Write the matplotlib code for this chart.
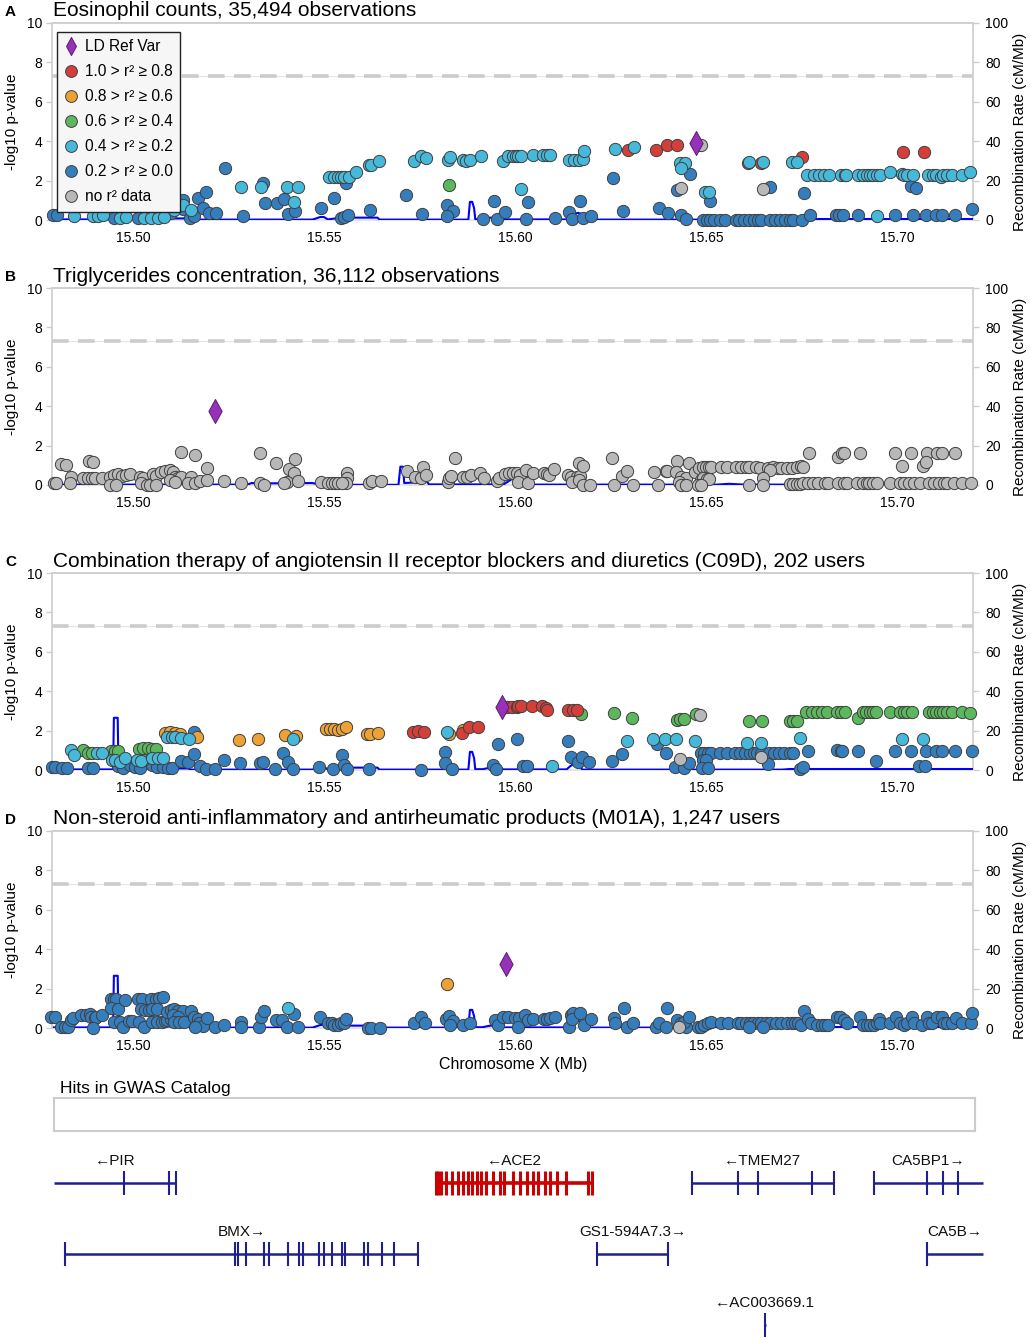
import matplotlib
matplotlib.use("Agg")
import math
import matplotlib.pyplot as plt
from matplotlib.lines import Line2D
from matplotlib.path import Path
from matplotlib.ticker import FormatStrFormatter

plt.rcParams['font.family'] = ['Liberation Sans', 'DejaVu Sans']

W, H = 1031, 1339
X_MIN, X_MAX = 15.4788, 15.7199
GWS_P = 5e-8

# ---------------- panel A: eosinophil counts ----------------
eos_ld00_pos = [15.4790, 15.4800, 15.4950, 15.5013, 15.5099, 15.5131, 15.5131, 15.5150, 15.5160, 15.5170,
                15.5183, 15.5191, 15.5199, 15.5217, 15.5241, 15.5288, 15.5340, 15.5346, 15.5377, 15.5395,
                15.5406, 15.5424, 15.5492, 15.5526, 15.5558, 15.5545, 15.5552, 15.5563, 15.5620, 15.5715,
                15.5757, 15.5822, 15.5838, 15.5822, 15.5916, 15.5945, 15.5953, 15.5974, 15.6034, 15.6029,
                15.6105, 15.6141, 15.6149, 15.6170, 15.6178, 15.6199, 15.6257, 15.6283, 15.6376, 15.6401,
                15.6424, 15.6458, 15.6435, 15.6448, 15.6511,
                15.6492, 15.6503, 15.6511, 15.6520, 15.6537, 15.6550, 15.6579, 15.6586, 15.6600, 15.6613,
                15.6626, 15.6636, 15.6644, 15.6668, 15.6681, 15.6694, 15.6707, 15.6720, 15.6729, 15.6751,
                15.6668, 15.6757, 15.6772, 15.6840, 15.6848, 15.6859, 15.6898, 15.6996, 15.7037, 15.7041,
                15.7051, 15.7076, 15.7102, 15.7119, 15.7152, 15.7197]
eos_ld00_logp = [0.25, 0.25, 0.1, 0.1, 0.35, 1.0, 0.55, 0.1, 0.2, 1.1,
                 0.6, 1.4, 0.35, 0.35, 2.65, 0.2, 1.9, 0.85, 0.85, 1.05,
                 0.3, 0.45, 0.6, 1.1, 1.9, 0.1, 0.15, 0.25, 0.5, 1.25,
                 0.3, 0.75, 0.45, 0.2, 0.05, 0.95, 0.05, 0.4, 0.93, 0.07,
                 0.1, 0.4, 0.05, 0.95, 0.1, 0.2, 2.15, 0.45, 0.6, 0.35,
                 1.5, 2.35, 0.25, 0.05, 0.95,
                 0.02, 0.02, 0.02, 0.02, 0.02, 0.02, 0.02, 0.02, 0.02, 0.02,
                 0.02, 0.02, 0.02, 0.02, 0.02, 0.02, 0.02, 0.02, 0.02, 0.02,
                 1.65, 1.35, 0.25, 0.25, 0.25, 0.25, 0.25, 0.25, 1.75, 0.25,
                 1.6, 0.25, 0.25, 0.25, 0.25, 0.58]
eos_ld08_pos = [15.6297, 15.6369, 15.6398, 15.6424, 15.6610, 15.6644, 15.6751, 15.7016, 15.7070]
eos_ld08_logp = [3.55, 3.55, 3.8, 3.8, 2.9, 2.9, 3.2, 3.45, 3.45]
eos_ld02_pos = [15.4845, 15.4895, 15.4908, 15.4921, 15.4966, 15.4982, 15.5029, 15.5047, 15.5065, 15.5081,
                15.5107, 15.5131, 15.5152, 15.5283, 15.5335, 15.5403, 15.5421, 15.5432, 15.5513, 15.5526,
                15.5537, 15.5545, 15.5552, 15.5565, 15.5584, 15.5618, 15.5623, 15.5644, 15.5736, 15.5754,
                15.5767, 15.5825, 15.5830, 15.5864, 15.5872, 15.5882, 15.5911, 15.5969, 15.5982, 15.5995,
                15.6003, 15.6008, 15.6016, 15.6016, 15.6047, 15.6073, 15.6084, 15.6092, 15.6141, 15.6155,
                15.6168, 15.6178, 15.6181, 15.6262, 15.6312, 15.6431, 15.6445, 15.6435, 15.6479, 15.6497,
                15.6507, 15.6613, 15.6649, 15.6725, 15.6738, 15.6765, 15.6783, 15.6796, 15.6809, 15.6822,
                15.6853, 15.6863, 15.6867, 15.6898, 15.6911, 15.6922, 15.6929, 15.6937, 15.6948, 15.6956,
                15.6948, 15.6982, 15.7013, 15.7018, 15.7026, 15.7041, 15.7081, 15.7094, 15.7102, 15.7115,
                15.7120, 15.7130, 15.7143, 15.7170, 15.7191]
eos_ld02_logp = [0.2, 0.2, 0.2, 0.25, 0.1, 0.15, 0.1, 0.1, 0.1, 0.15,
                 0.5, 0.75, 0.5, 1.65, 1.65, 1.65, 0.9, 1.65, 2.2, 2.2,
                 2.2, 2.2, 2.2, 2.2, 2.45, 2.8, 2.8, 3.0, 3.0, 3.25,
                 3.15, 3.05, 3.2, 3.05, 3.0, 3.05, 3.25, 3.0, 3.25, 3.25,
                 3.25, 3.25, 3.25, 1.55, 3.3, 3.3, 3.3, 3.28, 3.05, 3.05,
                 3.05, 3.1, 3.5, 3.6, 3.7, 2.9, 2.9, 2.65, 3.8, 1.4,
                 1.4, 2.95, 2.95, 2.95, 2.95, 2.27, 2.27, 2.27, 2.27, 2.27,
                 2.27, 2.27, 2.27, 2.27, 2.27, 2.27, 2.27, 2.27, 2.27, 2.27,
                 0.2, 2.45, 2.35, 2.27, 2.27, 2.27, 2.27, 2.27, 2.27, 2.2,
                 2.3, 2.27, 2.27, 2.3, 2.45]
eos_nold_pos = [15.6435, 15.6487, 15.6649]
eos_nold_logp = [1.6, 3.8, 1.55]
eos_ld04_pos = [15.5827]
eos_ld04_logp = [1.8]
eos_ref = (15.6475, 3.9)

# ---------------- panel B: triglycerides ----------------
tg_nold_pos = [15.4794, 15.4798, 15.4812, 15.4825, 15.4838, 15.4836, 15.4870, 15.4883, 15.4892, 15.4900,
               15.4918, 15.4886, 15.4895, 15.4940, 15.4949, 15.4960, 15.4971, 15.4982, 15.4993, 15.4940,
               15.4956, 15.5018, 15.5026, 15.5022, 15.5038, 15.5044, 15.5053, 15.5061, 15.5073, 15.5083,
               15.5096, 15.5105, 15.5110, 15.5118, 15.5127, 15.5096, 15.5110, 15.5061, 15.5127, 15.5151,
               15.5162, 15.5145, 15.5162, 15.5175, 15.5193, 15.5195, 15.5239, 15.5283, 15.5333, 15.5333,
               15.5344, 15.5375, 15.5408, 15.5421, 15.5404, 15.5395, 15.5433, 15.5425, 15.5491, 15.5511,
               15.5520, 15.5529, 15.5538, 15.5559, 15.5559, 15.5557, 15.5546, 15.5618, 15.5627, 15.5649,
               15.5717, 15.5737, 15.5755, 15.5759, 15.5768, 15.5825, 15.5828, 15.5832, 15.5842, 15.5864,
               15.5875, 15.5885, 15.5908, 15.5919, 15.5952, 15.5959, 15.5974, 15.5985,
               15.5996, 15.6004, 15.6013, 15.6009, 15.6033, 15.6028, 15.6046, 15.6075, 15.6083, 15.6090,
               15.6101, 15.6140, 15.6147, 15.6162, 15.6171, 15.6149, 15.6167, 15.6167, 15.6177, 15.6177,
               15.6197, 15.6254, 15.6259, 15.6281, 15.6294, 15.6309, 15.6364, 15.6395, 15.6399, 15.6375,
               15.6424, 15.6421, 15.6434, 15.6447, 15.6430, 15.6434, 15.6447, 15.6456, 15.6472, 15.6482,
               15.6491, 15.6500, 15.6509, 15.6514, 15.6487, 15.6493, 15.6502, 15.6509, 15.6478, 15.6487,
               15.6539, 15.6554, 15.6579, 15.6592, 15.6605, 15.6612, 15.6630, 15.6642, 15.6662, 15.6675,
               15.6689, 15.6697, 15.6711, 15.6724, 15.6737, 15.6750, 15.6754,
               15.6667, 15.6649, 15.6649, 15.6612,
               15.6719, 15.6728, 15.6737, 15.6746, 15.6754, 15.6768, 15.6781, 15.6794, 15.6811, 15.6820,
               15.6846, 15.6860, 15.6868, 15.6895, 15.6912, 15.6921, 15.6928, 15.6937, 15.6947, 15.6982,
               15.7009, 15.7018, 15.7031, 15.7044, 15.7061, 15.7083, 15.7096, 15.7110, 15.7123, 15.7132,
               15.7149, 15.7171, 15.7193,
               15.6770, 15.6845, 15.6855, 15.6860, 15.6902, 15.6996, 15.7037, 15.7079, 15.7105, 15.7118,
               15.7151, 15.7013, 15.7068, 15.7077]
tg_nold_logp = [0.08, 0.08, 1.05, 1.0, 0.4, 0.12, 0.35, 0.35, 0.35, 0.35,
                0.35, 1.2, 1.15, 0.4, 0.5, 0.55, 0.45, 0.5, 0.55, 0.0,
                0.0, 0.42, 0.35, 0.1, 0.0, 0.0, 0.55, 0.45, 0.68, 0.73,
                0.76, 0.68, 0.42, 0.34, 0.39, 0.25, 0.17, 0.0, 1.7, 0.42,
                1.53, 0.08, 0.08, 0.2, 0.25, 0.88, 0.2, 0.08, 1.6, 0.12,
                0.0, 1.1, 0.8, 0.6, 0.17, 0.08, 0.2, 1.3, 0.17, 0.12,
                0.12, 0.12, 0.12, 0.6, 0.34, 0.08, 0.12, 0.08, 0.2, 0.2,
                0.7, 0.42, 0.37, 0.93, 0.5, 0.17, 0.34, 0.45, 1.35, 0.4,
                0.4, 0.5, 0.62, 0.34, 0.2, 0.34, 0.55, 0.62,
                0.6, 0.6, 0.5, 0.17, 0.12, 0.76, 0.63, 0.63, 0.56, 0.5,
                0.8, 0.5, 0.39, 0.42, 0.46, 0.17, 0.25, 1.1, 0.98, 0.0,
                0.0, 1.35, 0.0, 0.46, 0.71, 0.0, 0.68, 0.71, 0.71, 0.0,
                1.24, 0.68, 0.39, 0.34, 0.17, 0.0, 0.0, 1.14, 0.68, 0.85,
                0.93, 0.93, 0.93, 0.93, 0.25, 0.34, 0.29, 0.29, 0.0, 0.0,
                0.9, 0.9, 0.9, 0.9, 0.9, 0.9, 0.9, 0.88, 0.88, 0.9,
                0.88, 0.88, 0.88, 0.88, 0.9, 0.98, 0.9,
                0.76, 0.34, 0.0, 0.0,
                0.05, 0.05, 0.05, 0.05, 0.08, 0.08, 0.08, 0.08, 0.08, 0.08,
                0.08, 0.08, 0.08, 0.08, 0.08, 0.08, 0.08, 0.08, 0.08, 0.08,
                0.08, 0.08, 0.08, 0.08, 0.08, 0.08, 0.08, 0.08, 0.08, 0.08,
                0.08, 0.1, 0.1,
                1.64, 1.44, 1.6, 1.64, 1.64, 1.64, 1.64, 1.64, 1.64, 1.64,
                1.64, 0.98, 0.98, 1.19]
tg_ref = (15.5215, 3.78)

# ---------------- panel C: C09D users ----------------
c09d_ld00_pos = [15.4787, 15.4796, 15.4813, 15.4826, 15.4883, 15.4896, 15.4962, 15.4973, 15.4992, 15.5005,
                 15.5018, 15.5049, 15.5062, 15.5079, 15.5092, 15.5101, 15.5160, 15.5125, 15.5145, 15.5160,
                 15.5175, 15.5191, 15.5215, 15.5238, 15.5280, 15.5332, 15.5341, 15.5372, 15.5392, 15.5407,
                 15.5420, 15.5488, 15.5524, 15.5546, 15.5552, 15.5559, 15.5619, 15.5754, 15.5817, 15.5817,
                 15.5834, 15.5943, 15.5950, 15.5955, 15.6006,
                 15.6022, 15.6031, 15.6138, 15.6147, 15.6165, 15.6176, 15.6194, 15.6253, 15.6280, 15.6372,
                 15.6396, 15.6420, 15.6442, 15.6455, 15.6487, 15.6496, 15.6505, 15.6514, 15.6491, 15.6500,
                 15.6489, 15.6506,
                 15.6536, 15.6554, 15.6576, 15.6589, 15.6603, 15.6616, 15.6625, 15.6634, 15.6643, 15.6665,
                 15.6679, 15.6692, 15.6705, 15.6719, 15.6728,
                 15.6663, 15.6746, 15.6753, 15.6768, 15.6842, 15.6853, 15.6857, 15.6897, 15.6946, 15.6996,
                 15.7038, 15.7076, 15.7103, 15.7119, 15.7152, 15.7196, 15.7058, 15.7074]
c09d_ld00_logp = [0.14, 0.14, 0.08, 0.08, 0.08, 0.08, 0.22, 0.08, 0.25, 0.17,
                  0.08, 0.25, 0.17, 0.17, 0.08, 0.08, 1.95, 0.47, 0.42, 0.81,
                  0.2, 0.03, 0.03, 0.5, 0.37, 0.34, 0.42, 0.03, 0.88, 0.42,
                  0.03, 0.17, 0.03, 0.76, 0.25, 0.03, 0.03, 0.0, 0.9, 0.37,
                  0.03, 0.25, 0.03, 1.34, 1.56,
                  0.2, 0.2, 1.47, 0.64, 0.42, 0.64, 0.42, 0.47, 0.81, 1.32,
                  0.88, 0.17, 0.08, 0.37, 0.85, 0.85, 0.85, 0.85, 0.5, 0.5,
                  0.08, 0.08,
                  0.85, 0.85, 0.85, 0.85, 0.85, 0.85, 0.85, 0.85, 0.85, 0.85,
                  0.85, 0.85, 0.85, 0.85, 0.85,
                  0.29, 0.03, 0.17, 0.98, 1.0, 0.98, 0.98, 0.98, 0.47, 0.98,
                  0.98, 0.98, 0.98, 0.98, 0.98, 0.98, 0.2, 0.2]
c09d_ld04_pos = [15.4870, 15.4883, 15.4894, 15.4942, 15.4953, 15.4962, 15.5017, 15.5027, 15.5040, 15.5049,
                 15.5060, 15.5025, 15.6174, 15.6259, 15.6306, 15.6424, 15.6433, 15.6442, 15.6473, 15.6612,
                 15.6647, 15.6719, 15.6729, 15.6738, 15.6763, 15.6777, 15.6790, 15.6804, 15.6817, 15.6844,
                 15.6853, 15.6863, 15.6897, 15.6911, 15.6920, 15.6929, 15.6938, 15.6946, 15.6982, 15.7009,
                 15.7018, 15.7027, 15.7040, 15.7085, 15.7094, 15.7103, 15.7113, 15.7121, 15.7131, 15.7143,
                 15.7170, 15.7192]
c09d_ld04_logp = [1.0, 0.88, 0.88, 0.98, 0.98, 0.98, 1.05, 1.1, 1.1, 1.05,
                  1.05, 0.5, 2.83, 2.88, 2.66, 2.54, 2.59, 2.59, 2.84, 2.5,
                  2.5, 2.5, 2.5, 2.5, 2.93, 2.93, 2.93, 2.93, 2.93, 2.93,
                  2.93, 2.93, 2.62, 2.93, 2.93, 2.93, 2.93, 2.93, 2.93, 2.93,
                  2.93, 2.93, 2.93, 2.93, 2.93, 2.93, 2.96, 2.93, 2.93, 2.93,
                  2.93, 2.88]
c09d_ld06_pos = [15.5085, 15.5097, 15.5110, 15.5123, 15.5167, 15.5278, 15.5328, 15.5398, 15.5428, 15.5506,
                 15.5516, 15.5526, 15.5538, 15.5546, 15.5558, 15.5612, 15.5620, 15.5642, 15.5826, 15.5864]
c09d_ld06_logp = [1.9, 1.95, 1.86, 1.83, 1.7, 1.53, 1.56, 1.78, 1.75, 2.07,
                  2.07, 2.07, 2.03, 2.07, 2.2, 1.83, 1.81, 1.86, 1.81, 2.03]
c09d_ld02_pos = [15.4839, 15.4845, 15.4905, 15.4918, 15.4944, 15.4953, 15.4966, 15.4979, 15.5010, 15.5022,
                 15.5049, 15.5066, 15.5079, 15.5088, 15.5101, 15.5110, 15.5127, 15.5147, 15.5418, 15.5823,
                 15.6098, 15.6292, 15.6362, 15.6393, 15.6421, 15.6471, 15.6607, 15.6643, 15.6747, 15.7013,
                 15.7067]
c09d_ld02_logp = [1.0, 0.76, 0.88, 0.88, 0.5, 0.5, 0.42, 0.6, 0.5, 0.47,
                  0.6, 0.6, 0.6, 1.66, 1.66, 1.66, 1.61, 1.58, 1.58, 1.95,
                  0.2, 1.47, 1.56, 1.56, 1.56, 1.47, 1.35, 1.35, 1.64, 1.56,
                  1.56]
c09d_ld08_pos = [15.5734, 15.5747, 15.5762, 15.5860, 15.5880, 15.5903, 15.5978, 15.5991, 15.6004, 15.6009,
                 15.6015, 15.6045, 15.6071, 15.6080, 15.6085, 15.6138, 15.6152, 15.6163]
c09d_ld08_logp = [1.95, 2.0, 1.95, 1.9, 2.17, 2.17, 3.22, 3.22, 3.22, 3.27,
                  3.27, 3.27, 3.27, 3.17, 3.05, 3.05, 3.05, 3.05]
c09d_nold_pos = [15.6485, 15.6433, 15.6645]
c09d_nold_logp = [2.8, 0.54, 0.68]
c09d_ref = (15.5965, 3.22)

# ---------------- panel D: M01A users ----------------
m01a_ld00_pos = [15.4786, 15.4795, 15.4812, 15.4821, 15.4830, 15.4839, 15.4843, 15.4865, 15.4878, 15.4887,
                 15.4891, 15.4900, 15.4904, 15.4918, 15.4896, 15.4942, 15.4951, 15.4956, 15.4942, 15.4960,
                 15.4951, 15.4965, 15.4974, 15.4980, 15.4989, 15.4998, 15.5013, 15.5024, 15.5046, 15.5059,
                 15.5068, 15.5079, 15.5020, 15.5031, 15.5042, 15.5051, 15.5062, 15.5016, 15.5029, 15.5051,
                 15.5064, 15.5075, 15.5083, 15.5090, 15.5099, 15.5089, 15.5099, 15.5108, 15.5118, 15.5130,
                 15.5106, 15.5117, 15.5108, 15.5121, 15.5133, 15.5152, 15.5160, 15.5169, 15.5174, 15.5182,
                 15.5162, 15.5194, 15.5215, 15.5239, 15.5283, 15.5283, 15.5331, 15.5335, 15.5344, 15.5374,
                 15.5391, 15.5422, 15.5403, 15.5431, 15.5490, 15.5510, 15.5520, 15.5527, 15.5536, 15.5545,
                 15.5552, 15.5558, 15.5615, 15.5624, 15.5646, 15.5736, 15.5755, 15.5764, 15.5820, 15.5826,
                 15.5837, 15.5829, 15.5864, 15.5882, 15.5948, 15.5955, 15.5969, 15.5981, 15.6000, 15.6011,
                 15.6009,
                 15.6026, 15.6035, 15.6048, 15.6075, 15.6083, 15.6092, 15.6104, 15.6142, 15.6147, 15.6153,
                 15.6149, 15.6171, 15.6180, 15.6200, 15.6259, 15.6262, 15.6285, 15.6294, 15.6309, 15.6370,
                 15.6377, 15.6399, 15.6396, 15.6425, 15.6434, 15.6447, 15.6443, 15.6456, 15.6478, 15.6487,
                 15.6496, 15.6504, 15.6513,
                 15.6539, 15.6557, 15.6583, 15.6592, 15.6605, 15.6614, 15.6623, 15.6636, 15.6645, 15.6658,
                 15.6667, 15.6684, 15.6697, 15.6711, 15.6724, 15.6732, 15.6741,
                 15.6612, 15.6649, 15.6757, 15.6750, 15.6768, 15.6776, 15.6790, 15.6803, 15.6811, 15.6820,
                 15.6842, 15.6851, 15.6860, 15.6868, 15.6904, 15.6912, 15.6921, 15.6930, 15.6939, 15.6947,
                 15.6952, 15.6956, 15.6982, 15.6998, 15.7009, 15.7018, 15.7026, 15.7039, 15.7044, 15.7066,
                 15.7079, 15.7083, 15.7092, 15.7105, 15.7118, 15.7123, 15.7132, 15.7145, 15.7154, 15.7171,
                 15.7193, 15.7197]
m01a_ld00_logp = [0.54, 0.54, 0.03, 0.03, 0.03, 0.4, 0.5, 0.66, 0.66, 0.71,
                  0.58, 0.5, 0.54, 0.66, 0.0, 1.46, 1.46, 1.46, 1.0, 0.95,
                  0.32, 0.32, 0.03, 1.42, 0.37, 0.37, 1.46, 1.46, 1.46, 1.46,
                  1.5, 1.56, 0.95, 0.9, 0.9, 0.95, 0.95, 0.32, 0.03, 0.32,
                  0.32, 0.32, 0.37, 0.4, 0.44, 0.83, 0.9, 0.95, 0.88, 0.88,
                  0.66, 0.58, 0.32, 0.32, 0.32, 0.88, 0.58, 0.44, 0.27, 0.1,
                  0.03, 0.49, 0.03, 0.15, 0.32, 0.03, 0.03, 0.58, 0.88, 0.4,
                  0.4, 0.71, 0.03, 0.07, 0.58, 0.27, 0.24, 0.15, 0.15, 0.24,
                  0.27, 0.44, 0.0, 0.0, 0.0, 0.24, 0.54, 0.24, 0.44, 0.61,
                  0.37, 0.15, 0.15, 0.24, 0.4, 0.15, 0.54, 0.54, 0.5, 0.5,
                  0.03,
                  0.66, 0.4, 0.44, 0.44, 0.44, 0.49, 0.58, 0.03, 0.66, 0.75,
                  0.44, 0.78, 0.15, 0.44, 0.49, 0.24, 1.0, 0.03, 0.24, 0.07,
                  0.24, 1.0, 0.03, 0.4, 0.24, 0.03, 0.32, 0.54, 0.07, 0.03,
                  0.15, 0.24, 0.32,
                  0.27, 0.27, 0.27, 0.27, 0.27, 0.27, 0.27, 0.27, 0.27, 0.27,
                  0.27, 0.27, 0.27, 0.27, 0.27, 0.27, 0.27,
                  0.03, 0.03, 0.88, 0.15, 0.44, 0.24, 0.15, 0.15, 0.15, 0.15,
                  0.54, 0.54, 0.4, 0.24, 0.54, 0.15, 0.15, 0.15, 0.15, 0.24,
                  0.44, 0.24, 0.24, 0.54, 0.24, 0.15, 0.24, 0.54, 0.24, 0.15,
                  0.54, 0.24, 0.24, 0.54, 0.54, 0.24, 0.24, 0.24, 0.49, 0.24,
                  0.24, 0.78]
m01a_ld02_pos = [15.5406]
m01a_ld02_logp = [1.0]
m01a_ld06_pos = [15.5822]
m01a_ld06_logp = [2.24]
m01a_nold_pos = [15.6430]
m01a_nold_logp = [0.05]
m01a_ref = (15.5976, 3.25)

# recombination rate (cM/Mb)
rec_pos = [15.4788, 15.4948, 15.4950, 15.4960, 15.4962, 15.5000, 15.5030, 15.5040, 15.5145, 15.5150,
           15.5470, 15.5490, 15.5500, 15.5510, 15.5530, 15.5535, 15.5640, 15.5645, 15.5878, 15.5882,
           15.5888, 15.5893, 15.5896, 15.5915, 15.5935, 15.5960, 15.5970, 15.6135, 15.6145, 15.6155,
           15.6165, 15.6172, 15.6175, 15.6700, 15.6720, 15.7199]
rec_rate = [0.3, 0.3, 26.5, 26.5, 0.8, 0.8, 1.0, 0.8, 0.8, 0.2,
            0.2, 1.5, 1.5, 0.3, 0.8, 1.2, 1.2, 0.2, 0.2, 9.2,
            9.2, 6.0, 0.4, 0.4, 1.2, 1.0, 0.3, 0.3, 2.0, 3.2,
            3.6, 3.2, 0.2, 0.2, 0.5, 0.5]
tg_rec_pos = [15.4788, 15.4890, 15.4892, 15.4930, 15.4935, 15.5300, 15.5310, 15.5330, 15.5470, 15.5490,
              15.5695, 15.5700, 15.5707, 15.5710, 15.5760, 15.5768, 15.5775, 15.5970, 15.6000, 15.6003,
              15.6530, 15.6560, 15.6600, 15.7199]
tg_rec_rate = [0.2, 0.2, 1.2, 1.2, 0.2, 0.2, 1.0, 0.8, 1.0, 0.1,
               0.1, 9.3, 9.3, 1.0, 1.5, 2.0, 0.3, 0.3, 4.0, 0.2,
               0.2, 0.6, 0.2, 0.2]

# genes
gene_names = ['PIR', 'BMX', 'ACE2', 'GS1-594A7.3', 'TMEM27', 'AC003669.1', 'CA5BP1', 'CA5B']
gene_start = [15.4793, 15.4822, 15.5793, 15.6215, 15.6463, 15.6652, 15.6940, 15.7079]
gene_end = [15.5113, 15.5746, 15.6204, 15.6401, 15.6835, 15.6657, 15.7225, 15.7225]
gene_strand = ['-', '+', '-', '+', '-', '-', '+', '+']
gene_row = [0, 1, 0, 1, 0, 2, 0, 1]
gene_exons = [
    [15.4976, 15.5093, 15.5113],
    [15.4822, 15.5267, 15.5275, 15.5296, 15.5343, 15.5356, 15.5406, 15.5435, 15.5445, 15.5487,
     15.5500, 15.5521, 15.5547, 15.5555, 15.5605, 15.5615, 15.5652, 15.5683, 15.5746],
    [15.5793, 15.5798, 15.5806, 15.5819, 15.5835, 15.5851, 15.5864, 15.5877, 15.5887, 15.5901,
     15.5911, 15.5924, 15.5942, 15.5961, 15.5971, 15.5995, 15.6013, 15.6031, 15.6047, 15.6060,
     15.6079, 15.6092, 15.6110, 15.6134, 15.6191, 15.6202],
    [15.6215, 15.6401],
    [15.6463, 15.6584, 15.6636, 15.6777, 15.6835],
    [15.6654],
    [15.6940, 15.7079, 15.7120, 15.7160],
    [15.7079],
]
highlight_gene = 'ACE2'

LD_COLORS = {'ld08': '#d43f3a', 'ld06': '#eea236', 'ld04': '#5cb85c',
             'ld02': '#46b8da', 'ld00': '#357ebd', 'nold': '#b8b8b8'}
REF_COLOR = '#9632b8'
GENE_COLOR = '#1f1f8f'
DIAMOND = Path([(0, 1), (0.55, 0), (0, -1), (-0.55, 0), (0, 1)],
               [Path.MOVETO, Path.LINETO, Path.LINETO, Path.LINETO, Path.CLOSEPOLY])


def px_box(left, top, right, bottom):
    return [left / W, 1 - bottom / H, (right - left) / W, (bottom - top) / H]


def draw_panel(fig, box, letter, title, bins, ref, rpos, rrate, legend=False):
    left, top, right, bottom = box
    ax = fig.add_axes(px_box(*box))
    ax2 = ax.twinx()
    ax.set_zorder(ax2.get_zorder() + 1)
    ax.patch.set_visible(False)

    ax2.plot(rpos, rrate, color='#0000ff', lw=1.5, zorder=3)
    ax2.set_ylim(0, 100)
    ax2.set_yticks(range(0, 101, 20))

    thr = -math.log10(GWS_P)
    ax.axhline(thr, color='#e4e4e4', lw=0.8, zorder=1)
    ax.axhline(thr, color='#cccccc', lw=2.6, dashes=(4.6, 2.6), zorder=1)

    for pos, logp, key in bins:
        ax.scatter(pos, logp, s=78, c=LD_COLORS[key], edgecolors='#404040',
                   linewidths=0.7, zorder=3, clip_on=False)
    ax.scatter([ref[0]], [ref[1]], marker=DIAMOND, s=300, c=REF_COLOR,
               edgecolors='#5a1a70', linewidths=0.7, zorder=4, clip_on=False)

    ax.set_xlim(X_MIN, X_MAX)
    ax.set_ylim(0, 10)
    ax.set_yticks(range(0, 11, 2))
    ax.set_xticks([15.50, 15.55, 15.60, 15.65, 15.70])
    ax.xaxis.set_major_formatter(FormatStrFormatter('%.2f'))

    for a in (ax, ax2):
        for side in ('top', 'bottom', 'left', 'right'):
            a.spines[side].set_color('#d0d0d0')
            a.spines[side].set_linewidth(1.3)
    ax.spines['right'].set_visible(False)
    ax.spines['bottom'].set_visible(False)
    ax2.spines['left'].set_visible(False)
    ax2.spines['bottom'].set_color('#e2e2e2')
    ax.tick_params(axis='y', length=4, width=1, color='#cccccc', labelsize=10, pad=3)
    ax.tick_params(axis='x', length=0, labelsize=10, pad=8)
    ax2.tick_params(axis='y', length=4, width=1, color='#cccccc', labelsize=10, pad=5)

    mid = (top + bottom) / 2
    fig.text(5 / W, 1 - (top - 11) / H, letter, fontsize=11, fontweight='bold', va='center')
    fig.text(53 / W, 1 - (top - 12) / H, title, fontsize=15, va='center', ha='left')
    fig.text(12 / W, 1 - mid / H, '-log10 p-value', rotation=90, fontsize=11,
             ha='center', va='center')
    fig.text(1020 / W, 1 - (mid + 10) / H, 'Recombination Rate (cM/Mb)', rotation=90,
             fontsize=11, ha='center', va='center')

    if legend:
        handles = [Line2D([], [], ls='none', marker=DIAMOND, ms=13, mfc=REF_COLOR,
                          mec='#5a1a70', mew=0.7)]
        labels = ['LD Ref Var']
        for key, lab in [('ld08', '1.0 > r² ≥ 0.8'), ('ld06', '0.8 > r² ≥ 0.6'),
                         ('ld04', '0.6 > r² ≥ 0.4'), ('ld02', '0.4 > r² ≥ 0.2'),
                         ('ld00', '0.2 > r² ≥ 0.0'), ('nold', 'no r² data')]:
            handles.append(Line2D([], [], ls='none', marker='o', ms=8.5, mfc=LD_COLORS[key],
                                  mec='#404040', mew=0.7))
            labels.append(lab)
        leg = ax.legend(handles, labels, loc='upper left',
                        bbox_to_anchor=((57 - left) / (right - left), (bottom - 32) / (bottom - top)),
                        borderaxespad=0, fontsize=11.2, frameon=True, fancybox=False,
                        handlelength=0.9, handletextpad=0.4, labelspacing=0.64,
                        borderpad=0.48)
        leg.get_frame().set_facecolor('#f6f6f6')
        leg.get_frame().set_edgecolor('#222222')
        leg.get_frame().set_linewidth(1.0)
        leg.get_frame().set_alpha(1)
        leg.set_zorder(10)
    return ax


fig = plt.figure(figsize=(W / 100, H / 100), dpi=100)

draw_panel(fig, (52, 23, 973, 220), 'A', 'Eosinophil counts, 35,494 observations',
           [(eos_ld00_pos, eos_ld00_logp, 'ld00'), (eos_ld08_pos, eos_ld08_logp, 'ld08'),
            (eos_ld02_pos, eos_ld02_logp, 'ld02'), (eos_nold_pos, eos_nold_logp, 'nold'),
            (eos_ld04_pos, eos_ld04_logp, 'ld04')],
           eos_ref, rec_pos, rec_rate, legend=True)
draw_panel(fig, (52, 288, 973, 485), 'B', 'Triglycerides concentration, 36,112 observations',
           [(tg_nold_pos, tg_nold_logp, 'nold')], tg_ref, tg_rec_pos, tg_rec_rate)
draw_panel(fig, (52, 573, 973, 770), 'C',
           'Combination therapy of angiotensin II receptor blockers and diuretics (C09D), 202 users',
           [(c09d_ld00_pos, c09d_ld00_logp, 'ld00'), (c09d_ld04_pos, c09d_ld04_logp, 'ld04'),
            (c09d_ld06_pos, c09d_ld06_logp, 'ld06'), (c09d_ld02_pos, c09d_ld02_logp, 'ld02'),
            (c09d_ld08_pos, c09d_ld08_logp, 'ld08'), (c09d_nold_pos, c09d_nold_logp, 'nold')],
           c09d_ref, rec_pos, rec_rate)
draw_panel(fig, (52, 831, 973, 1028), 'D',
           'Non-steroid anti-inflammatory and antirheumatic products (M01A), 1,247 users',
           [(m01a_ld00_pos, m01a_ld00_logp, 'ld00'), (m01a_nold_pos, m01a_nold_logp, 'nold'),
            (m01a_ld02_pos, m01a_ld02_logp, 'ld02'), (m01a_ld06_pos, m01a_ld06_logp, 'ld06')],
           m01a_ref, rec_pos, rec_rate)

fig.text(513 / W, 1 - 1065 / H, 'Chromosome X (Mb)', fontsize=11.5, ha='center', va='center')

# GWAS catalog track (empty)
fig.text(60 / W, 1 - 1088 / H, 'Hits in GWAS Catalog', fontsize=12.5, ha='left', va='center')
gw = fig.add_axes(px_box(54, 1098, 975, 1131))
gw.set_xticks([])
gw.set_yticks([])
for s in gw.spines.values():
    s.set_color('#cccccc')
    s.set_linewidth(1.5)

# gene track
ga = fig.add_axes(px_box(52, 1140, 973, 1339))
ga.set_xlim(X_MIN, X_MAX)
ga.set_ylim(2.2, -0.6)
ga.axis('off')
for name, g0, g1, strand, row, exons in zip(gene_names, gene_start, gene_end, gene_strand,
                                           gene_row, gene_exons):
    hi = name == highlight_gene
    col = '#cc0000' if hi else GENE_COLOR
    ga.plot([g0, g1], [row, row], color=col, lw=2.6 if hi else 1.8, clip_on=False,
            solid_capstyle='butt')
    ga.vlines(exons, row - 0.17, row + 0.17, color=col, lw=2.2 if hi else 1.5, clip_on=False)
    label = '\u2190' + name if strand == '-' else name + '\u2192'
    ga.text((g0 + g1) / 2, row - 0.3, label, fontsize=11, ha='center', va='center',
            color='#111111', clip_on=False)

fig.savefig('out.png', dpi=100)
